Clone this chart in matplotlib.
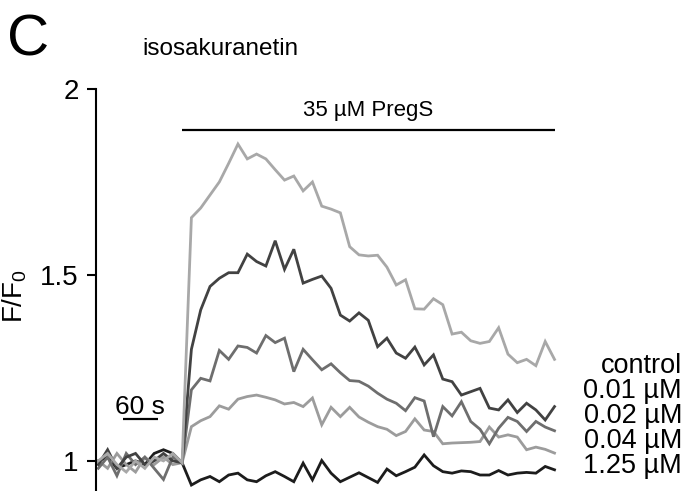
import numpy as np
import matplotlib.pyplot as plt

plt.rcParams['font.family'] = ['Liberation Sans', 'DejaVu Sans']
plt.rcParams['mathtext.default'] = 'regular'

# frame interval in seconds, PregS applied from frame 9 to the end
dt = 16
stim_start, stim_end = 9, 49

control = [1.00, 1.02, 0.99, 0.97, 1.00, 0.98, 1.01, 1.00, 1.02, 0.995,
           1.654, 1.680, 1.715, 1.750, 1.800, 1.852, 1.812, 1.825, 1.812, 1.783,
           1.755, 1.766, 1.726, 1.750, 1.685, 1.677, 1.667, 1.576, 1.554, 1.551,
           1.553, 1.521, 1.473, 1.487, 1.409, 1.408, 1.436, 1.420, 1.341, 1.346,
           1.323, 1.316, 1.321, 1.358, 1.287, 1.264, 1.273, 1.256, 1.321, 1.273]
conc_001 = [0.99, 1.03, 0.98, 1.01, 1.02, 0.99, 1.00, 1.02, 1.00, 0.995,
            1.300, 1.406, 1.469, 1.491, 1.506, 1.506, 1.556, 1.536, 1.524, 1.592,
            1.515, 1.569, 1.478, 1.488, 1.497, 1.464, 1.392, 1.376, 1.398, 1.378,
            1.307, 1.330, 1.290, 1.276, 1.306, 1.258, 1.285, 1.220, 1.213, 1.177,
            1.186, 1.195, 1.142, 1.137, 1.164, 1.130, 1.155, 1.137, 1.110, 1.146]
conc_002 = [0.98, 1.01, 0.96, 1.02, 0.99, 1.01, 0.98, 0.95, 1.01, 0.995,
            1.191, 1.222, 1.215, 1.297, 1.273, 1.309, 1.305, 1.290, 1.337, 1.318,
            1.330, 1.240, 1.300, 1.272, 1.245, 1.261, 1.237, 1.216, 1.214, 1.201,
            1.182, 1.166, 1.155, 1.135, 1.170, 1.161, 1.065, 1.146, 1.121, 1.159,
            1.106, 1.085, 1.046, 1.088, 1.117, 1.106, 1.079, 1.106, 1.091, 1.081]
conc_004 = [1.00, 0.98, 1.02, 0.99, 0.97, 1.01, 0.99, 1.01, 0.99, 0.995,
            1.092, 1.108, 1.119, 1.148, 1.139, 1.166, 1.173, 1.177, 1.171, 1.164,
            1.153, 1.157, 1.146, 1.169, 1.097, 1.144, 1.119, 1.144, 1.118, 1.104,
            1.092, 1.085, 1.068, 1.079, 1.113, 1.083, 1.079, 1.046, 1.048, 1.049,
            1.050, 1.052, 1.091, 1.064, 1.070, 1.064, 1.030, 1.037, 1.031, 1.021]
conc_125 = [1.00, 1.01, 0.98, 0.99, 1.00, 0.99, 1.02, 1.03, 1.02, 0.995,
            0.935, 0.949, 0.958, 0.944, 0.962, 0.967, 0.949, 0.944, 0.960, 0.971,
            0.958, 0.944, 0.994, 0.949, 1.001, 0.967, 0.944, 0.956, 0.968, 0.955,
            0.942, 0.978, 0.960, 0.971, 0.983, 1.016, 0.987, 0.971, 0.967, 0.973,
            0.971, 0.962, 0.962, 0.974, 0.962, 0.967, 0.969, 0.967, 0.985, 0.976]

labels = ['control', '0.01 µM', '0.02 µM', '0.04 µM', '1.25 µM']
traces = [control, conc_001, conc_002, conc_004, conc_125]
colors = ['#a8a8a8', '#424242', '#6e6e6e', '#9c9c9c', '#1c1c1c']

t = np.arange(len(control)) * dt

fig = plt.figure(figsize=(6.86, 4.91), dpi=100)
ax = fig.add_axes([96 / 686, 0.0, 504 / 686, 1 - 89 / 491])

# draw the control last so it sits on top
for trace, color in zip(traces[::-1], colors[::-1]):
    ax.plot(t, trace, color=color, lw=2.0, solid_joinstyle='miter')

ax.set_xlim(-3.95, -3.95 + 504 / 0.5819)
ax.set_ylim(0.919, 2.0)
ax.set_yticks([1, 1.5, 2])
ax.set_yticklabels(['1', '1.5', '2'])
ax.tick_params(axis='y', direction='out', length=6.5, width=1.5,
               pad=6, labelsize=20)
ax.set_xticks([])
for side in ['top', 'right', 'bottom']:
    ax.spines[side].set_visible(False)
ax.spines['left'].set_linewidth(1.5)

# PregS application bar
ax.plot([stim_start * dt, stim_end * dt], [1.89, 1.89], color='black',
        lw=1.6, solid_capstyle='butt', clip_on=False)
ax.text((stim_start + stim_end) * dt / 2, 1.915, '35 µM PregS',
        ha='center', va='bottom', fontsize=16)

# 60 s scale bar
ax.plot([42, 102], [1.113, 1.113], color='black', lw=1.6,
        solid_capstyle='butt')
ax.text(72, 1.127, '60 s', ha='center', va='baseline', fontsize=19)

fig.text(15 / 686, 1 - 296 / 491, 'F/F$_0$', rotation=90, fontsize=20,
         ha='center', va='center')

for k, label in enumerate(labels):
    fig.text(682 / 686, 1 - (373 + 25 * k) / 491, label, ha='right',
             va='baseline', fontsize=19.5)

fig.text(7 / 686, 1 - 55 / 491, 'C', fontsize=42, va='baseline')
fig.text(142 / 686, 1 - 55 / 491, 'isosakuranetin', fontsize=17.5,
         va='baseline')

fig.savefig('out.png', dpi=100)
